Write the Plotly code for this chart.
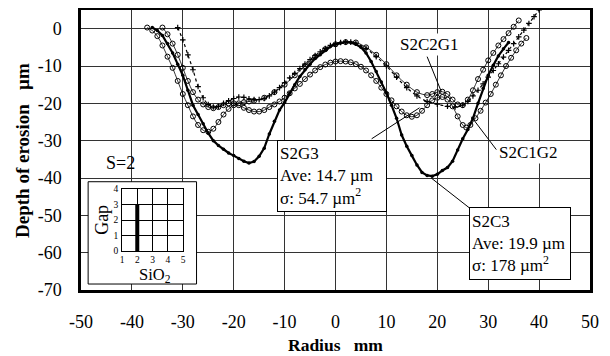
import plotly.graph_objects as go

# ---------------- data ----------------
s2c3_x = [-36, -35, -34, -33, -32, -31, -30, -29, -28, -27, -26, -25, -24, -23, -22, -21, -20, -19, -18, -17,
          -16, -15, -14, -13, -12, -11, -10, -9, -8, -7, -6, -5, -4, -3, -2, -1, 0, 1, 2, 3, 4, 5, 6, 7, 8, 9,
          10, 11, 12, 13, 14, 15, 16, 17, 18, 19, 20, 21, 22, 23, 24, 25, 26, 27, 28, 29, 30, 31, 32, 33, 34]
s2c3_y = [0.3, -0.5, -1.8, -4, -6.5, -9.5, -12.5, -16.5, -20.5, -23, -25.5, -28, -30, -31.3, -32.3, -33.3, -34, -34.8, -35.5, -36,
          -35.6, -34.2, -32, -28.2, -24.8, -21.8, -19.8, -17.2, -15, -12.8, -11, -9.5, -8, -7, -5.8, -4.8, -4.2, -3.8, -3.6, -3.7, -4.2, -5, -6.5, -8.8, -11.5, -14.3,
          -17.2, -20.5, -24, -28.5, -31.5, -34, -36.5, -38.5, -39.3, -39.5, -39, -38, -37.2, -35.5, -32.5, -29.5, -27, -24, -20, -16, -12.5, -9.8, -7.3, -5.4, -3.7]

s2c2g1_x = [-37, -36, -35, -34, -33, -32, -31, -30, -29, -28, -27, -26, -25, -24, -23, -22, -21, -20, -19, -18,
            -17, -16, -14, -12, -10, -8, -6, -4, -2, 0, 2, 4, 6, 8, 10, 12, 14, 16, 18, 19, 20, 21, 22, 23,
            24, 25, 26, 27, 28, 29, 30, 31, 32, 33, 34, 35, 36]
s2c2g1_y = [0.3, -0.5, -2, -4.5, -7.5, -10.5, -14, -17.5, -20.5, -23.5, -25.8, -27.2, -27.6, -26.8, -25, -23, -21.5, -20.5, -20, -19.7,
            -19.5, -19.3, -18.5, -17, -15, -12.5, -10, -7.5, -5.5, -4.2, -3.6, -3.7, -5, -7, -9.5, -12.5, -15, -17, -17.8, -17.5, -17, -16.9, -17.5, -19,
            -20.3, -20.5, -19, -16.5, -13.5, -11, -8.5, -6.5, -4.5, -2.8, -1.2, 0.5, 2.2]

s2g3_x = [-34, -33, -32, -31, -30, -29, -28, -27, -26, -25, -24, -23, -22, -21, -20, -19, -18, -17, -16, -15,
          -14, -13, -12, -11, -10, -9, -8, -7, -6, -5, -4, -3, -2, -1, 0, 1, 2, 3, 4, 5, 6, 7, 8, 9, 10,
          11, 12, 13, 14, 15, 16, 17, 18, 19, 20, 21, 22, 23, 24, 25, 25.7, 26.5, 27.5, 28.5, 29.5, 30.5,
          31.5, 32.5, 33.5, 34.5, 35.5, 36.5, 37.5]
s2g3_y = [0.3, -1.5, -4, -7, -10.5, -14, -17, -19, -20.3, -21, -21.3, -21, -20.5, -20, -20, -20.5, -21.2, -21.8, -22.2, -22.2,
          -21.8, -21, -20.3, -19.5, -18.5, -17.3, -16, -14.8, -13.5, -12.3, -11.2, -10.3, -9.6, -9.1, -8.8, -8.7, -8.8, -9, -9.5, -10.2, -11.2, -12.5, -14, -15.8, -17.5,
          -19.2, -20.8, -22.2, -23.2, -23.6, -23.2, -22, -20.5, -19.2, -18.5, -18.3, -19, -20.8, -23.5, -25.8, -26.5, -25.8, -24, -22, -19.8, -17.5,
          -15, -12.5, -10, -7.8, -5.8, -4, -2.5]

s2c1g2_x = [-31, -30, -29, -28, -27, -26, -25, -24, -23, -22, -21, -20, -19, -18, -17, -16, -15, -14, -13, -12,
            -11, -10, -9, -8, -7, -6, -5, -4, -3, -2, -1, 0, 1, 2, 3, 4, 6, 8, 10, 12, 14, 16, 18, 20, 22,
            23.5, 25, 26, 27, 28, 29, 30, 31, 32, 33, 34, 35, 36, 37, 38, 39, 40]
s2c1g2_y = [0.3, -3, -7, -11, -15.5, -18.5, -20.3, -21, -20.8, -20, -19.3, -18.7, -18.3, -18.4, -18.8, -19, -19, -18.7, -18, -17,
            -15.8, -14.5, -13.2, -12, -10.7, -9.5, -8.3, -7.2, -6.2, -5.3, -4.5, -4, -3.7, -3.6, -3.6, -3.9, -5.3, -7.5, -10, -13, -15.8, -18, -19.5, -20.2, -20.8,
            -21, -20.5, -19.5, -18, -16.5, -14.8, -13, -11.2, -9.4, -7.6, -5.8, -4, -2.2, -0.4, 1.4, 3.2, 5]

x_ticks = [-50, -40, -30, -20, -10, 0, 10, 20, 30, 40, 50]
y_ticks = [0, -10, -20, -30, -40, -50, -60, -70]

inset_sio2 = [2, 2]
inset_gap = [0, 3]

FONT = "'Liberation Serif', 'Times New Roman', Times, serif"

fig = go.Figure()

fig.add_trace(go.Scatter(x=s2c3_x, y=s2c3_y, mode="lines+markers", name="S2C3",
                         line=dict(color="black", width=2.2),
                         marker=dict(size=3.5, color="black")))
fig.add_trace(go.Scatter(x=s2c2g1_x, y=s2c2g1_y, mode="lines+markers", name="S2C2G1",
                         line=dict(color="black", width=0.8, shape="spline"),
                         marker=dict(symbol="circle-open", size=5, color="black", line=dict(width=1))))
fig.add_trace(go.Scatter(x=s2g3_x, y=s2g3_y, mode="lines+markers", name="S2G3",
                         line=dict(color="black", width=0.8, shape="spline"),
                         marker=dict(symbol="circle-open", size=5, color="black", line=dict(width=1))))
fig.add_trace(go.Scatter(x=s2c1g2_x, y=s2c1g2_y, mode="lines+markers", name="S2C1G2",
                         line=dict(color="black", width=1.2, dash="dot", shape="spline"),
                         marker=dict(symbol="cross-thin-open", size=4, color="black", line=dict(width=1.2))))

# inset
fig.add_trace(go.Scatter(x=inset_sio2, y=inset_gap, mode="lines", xaxis="x2", yaxis="y2",
                         line=dict(color="black", width=4)))

grid_col = "#333333"
# the page body has an 8 px margin, so the figure is drawn 8 px right / down
fig.update_layout(
    width=594, height=346,
    margin=dict(l=73, r=12, t=2, b=64, autoexpand=False),
    paper_bgcolor="white", plot_bgcolor="white",
    showlegend=False,
    font=dict(family=FONT, color="black"),
    xaxis=dict(range=[-50, 50], tickvals=x_ticks, ticktext=[str(v) for v in x_ticks],
               showgrid=True, gridcolor=grid_col, gridwidth=1, zeroline=False, automargin=False,
               showline=True, linecolor="black", linewidth=2.5, mirror=True,
               ticks="", ticklabelstandoff=14, tickfont=dict(size=18, family=FONT)),
    yaxis=dict(range=[-70, 5], tickvals=y_ticks, ticktext=[str(v) for v in y_ticks],
               showgrid=True, gridcolor=grid_col, gridwidth=1, zeroline=False, automargin=False,
               showline=True, linecolor="black", linewidth=2.5, mirror=True,
               ticks="", ticklabelstandoff=13, tickfont=dict(size=18, family=FONT)),
    xaxis2=dict(domain=[0.0806, 0.2004], anchor="y2", range=[1, 5], tickvals=[1, 2, 3, 4, 5],
                showgrid=True, gridcolor="black", gridwidth=1, zeroline=False, automargin=False,
                showline=True, linecolor="black", linewidth=1, mirror=True, ticks="",
                ticklabelstandoff=0, tickfont=dict(size=9.5, family=FONT)),
    yaxis2=dict(domain=[0.139, 0.361], anchor="x2", range=[0, 4], tickvals=[0, 1, 2, 3, 4],
                showgrid=True, gridcolor="black", gridwidth=1, zeroline=False, automargin=False,
                showline=True, linecolor="black", linewidth=1, mirror=True, ticks="",
                ticklabelstandoff=1, tickfont=dict(size=9.5, family=FONT)),
)

# white box behind inset
fig.add_shape(type="rect", xref="x", yref="y", x0=-48.6, x1=-27.3, y0=-41, y1=-68.4,
              fillcolor="white", line=dict(color="black", width=1), layer="between")

# inset axis titles
fig.add_annotation(x=0.145, y=0.054, xref="paper", yref="paper", text="SiO<sub>2</sub>", showarrow=False,
                   xanchor="center", yanchor="middle", font=dict(size=16.5, family=FONT))
fig.add_annotation(x=0.041, y=0.25, xref="paper", yref="paper", text="Gap", showarrow=False,
                   xanchor="center", yanchor="middle", textangle=-90, font=dict(size=18, family=FONT))

# leader lines
leaders = [((18.0, -7.5), (20.8, -16.9)),
           ((31.6, -32.4), (26.7, -23.6)),
           ((7.1, -29.5), (16.5, -21.2)),
           ((26.3, -48), (18.8, -40))]
for (a, b) in leaders:
    fig.add_shape(type="line", xref="x", yref="y", x0=a[0], y0=a[1], x1=b[0], y1=b[1],
                  line=dict(color="black", width=1))

fig.add_annotation(x=18.4, y=-4.3, xref="x", yref="y", text="S2C2G1", showarrow=False,
                   xanchor="center", yanchor="middle", font=dict(size=17, family=FONT), bgcolor="white")
fig.add_annotation(x=38.0, y=-33.2, xref="x", yref="y", text="S2C1G2", showarrow=False,
                   xanchor="center", yanchor="middle", font=dict(size=17, family=FONT), bgcolor="white")
fig.add_annotation(x=-11.4, y=-29.8, xref="x", yref="y", xanchor="left", yanchor="top",
                   text="S2G3<br>Ave: 14.7 µm<br>σ: 54.7 µm<sup>2</sup>", showarrow=False, align="left",
                   font=dict(size=17, family=FONT), bgcolor="white", bordercolor="black", borderwidth=1,
                   width=104, height=66, borderpad=2)
fig.add_annotation(x=26.3, y=-47.7, xref="x", yref="y", xanchor="left", yanchor="top",
                   text="S2C3<br>Ave: 19.9 µm<br>σ: 178 µm<sup>2</sup>", showarrow=False, align="left",
                   font=dict(size=17, family=FONT), bgcolor="white", bordercolor="black", borderwidth=1,
                   width=96, height=67, borderpad=2)
fig.add_annotation(x=-42.2, y=-35.9, xref="x", yref="y", text="S=2", showarrow=False,
                   xanchor="center", yanchor="middle", font=dict(size=18, family=FONT))

# axis titles
fig.add_annotation(x=0.5, y=-0.196, xref="paper", yref="paper", text="<b>Radius   mm</b>", showarrow=False,
                   font=dict(size=17.5, family=FONT), xanchor="center", yanchor="middle")
fig.add_annotation(x=-0.116, y=0.5, xref="paper", yref="paper", text="<b>Depth of erosion   µm</b>",
                   showarrow=False, textangle=-90, font=dict(size=19, family=FONT),
                   xanchor="center", yanchor="middle")

fig.write_html("out.html")
